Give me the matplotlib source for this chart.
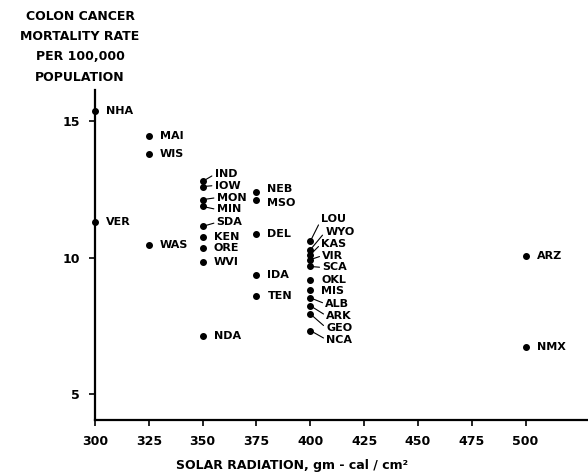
import matplotlib
matplotlib.use('Agg')
import matplotlib.pyplot as plt

# data
states = ['NHA', 'VER', 'MAI', 'WIS', 'WAS',
          'IND', 'IOW', 'MON', 'MIN', 'SDA', 'KEN', 'ORE', 'WVI', 'NDA',
          'NEB', 'MSO', 'DEL', 'IDA', 'TEN',
          'LOU', 'WYO', 'KAS', 'VIR', 'SCA', 'OKL', 'MIS', 'ALB', 'ARK', 'GEO', 'NCA',
          'ARZ', 'NMX']
radiation = [300, 300, 325, 325, 325,
             350, 350, 350, 350, 350, 350, 350, 350, 350,
             375, 375, 375, 375, 375,
             400, 400, 400, 400, 400, 400, 400, 400, 400, 400, 400,
             500, 500]
mortality = [15.37, 11.3, 14.45, 13.8, 10.45,
             12.8, 12.61, 12.13, 11.88, 11.15, 10.77, 10.37, 9.83, 7.13,
             12.4, 12.1, 10.88, 9.37, 8.6,
             10.6, 10.29, 10.11, 9.93, 9.68, 9.19, 8.8, 8.53, 8.24, 7.94, 7.33,
             10.07, 6.73]

x_ticks = [300, 325, 350, 375, 400, 425, 450, 475, 500]
y_ticks = [5, 10, 15]

# label placement (pixels from the dot) for the crowded columns
offsets = {
    'IND': (12, 7), 'IOW': (12, 1), 'MON': (14, 2), 'MIN': (14, -3), 'SDA': (14, 4),
    'NEB': (11, 3), 'MSO': (11, -3),
    'LOU': (11, 22), 'WYO': (15, 18), 'KAS': (11, 11), 'VIR': (12, 4), 'SCA': (12, -1),
    'MIS': (11, -1), 'ALB': (15, -6), 'ARK': (16, -10), 'GEO': (16, -14), 'NCA': (16, -9),
}
leaders = {'IND', 'IOW', 'MON', 'MIN', 'SDA', 'LOU', 'WYO', 'KAS', 'VIR', 'SCA',
           'ALB', 'ARK', 'GEO', 'NCA'}

fig = plt.figure(figsize=(5.88, 4.74), dpi=100)
ax = fig.add_axes([95 / 588, 1 - 420 / 474, 1 - 95 / 588, (420 - 90) / 474])

ax.plot(radiation, mortality, 'o', color='black', markersize=4, clip_on=False, zorder=3)

for name, x, y in zip(states, radiation, mortality):
    dx, dy = offsets.get(name, (11, 0))
    if name in leaders:
        ax.annotate(name, (x, y), xytext=(dx, dy), textcoords='offset pixels',
                    ha='left', va='center', fontsize=8, fontweight='bold',
                    arrowprops=dict(arrowstyle='-', lw=0.8, color='black',
                                    shrinkA=0, shrinkB=0, relpos=(0, 0.5)))
    else:
        ax.annotate(name, (x, y), xytext=(dx, dy), textcoords='offset pixels',
                    ha='left', va='center', fontsize=8, fontweight='bold')

ax.set_xlim(300, 529)
ax.set_ylim(4.05, 16.15)
ax.set_xticks(x_ticks)
ax.set_yticks(y_ticks)
ax.tick_params(direction='out', length=4, width=1.2, labelsize=9, pad=7)
for lbl in ax.get_xticklabels() + ax.get_yticklabels():
    lbl.set_fontweight('bold')

ax.spines['top'].set_visible(False)
ax.spines['right'].set_visible(False)
ax.spines['left'].set_linewidth(1.6)
ax.spines['bottom'].set_linewidth(1.6)

title_lines = ['COLON CANCER', 'MORTALITY RATE', 'PER 100,000', 'POPULATION']
for i, line in enumerate(title_lines):
    fig.text(80 / 588, 1 - (16 + 20.5 * i) / 474, line, ha='center', va='center',
             fontsize=9, fontweight='bold')

fig.text(292 / 588, 1 - 465 / 474, 'SOLAR RADIATION, gm - cal / cm²', ha='center',
         va='center', fontsize=9, fontweight='bold')

fig.savefig('out.png', dpi=100)
